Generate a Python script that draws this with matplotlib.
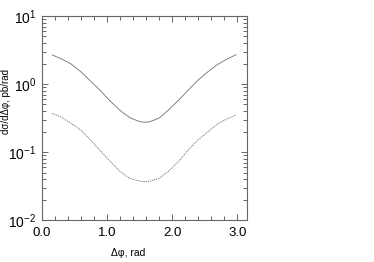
import numpy as np
import matplotlib
matplotlib.use('Agg')
import matplotlib.pyplot as plt
from matplotlib.ticker import MultipleLocator, LogLocator, NullFormatter

plt.rcParams['font.family'] = ['Liberation Sans', 'DejaVu Sans']
plt.rcParams['mathtext.fontset'] = 'custom'
plt.rcParams['mathtext.rm'] = 'Liberation Sans'

# delta phi values (rad)
dphi = [0.16, 0.30, 0.45, 0.60, 0.75, 0.90, 1.05, 1.20, 1.35, 1.50, 1.57,
        1.65, 1.80, 1.95, 2.10, 2.25, 2.40, 2.55, 2.70, 2.85, 2.98]
# upper curve, pb/rad
xsec_upper = [2.68, 2.35, 1.97, 1.52, 1.10, 0.80, 0.56, 0.41, 0.32, 0.280, 0.274,
              0.278, 0.315, 0.42, 0.58, 0.82, 1.15, 1.52, 1.95, 2.35, 2.70]
# lower curve, pb/rad
xsec_lower = [0.372, 0.325, 0.265, 0.21, 0.150, 0.104, 0.073, 0.052, 0.041, 0.0375, 0.0366,
              0.0372, 0.041, 0.053, 0.073, 0.108, 0.152, 0.20, 0.26, 0.31, 0.35]

xticks = [0.0, 1.0, 2.0, 3.0]
xticklabels = ['0.0', '1.0', '2.0', '3.0']
yticks = [1e-2, 1e-1, 1e0, 1e1]
yticklabels = [r'$\mathregular{10^{-2}}$', r'$\mathregular{10^{-1}}$',
               r'$\mathregular{10^{0}}$', r'$\mathregular{10^{1}}$']

fig = plt.figure(figsize=(3.74, 2.62), dpi=100)
ax = fig.add_axes([0.1115, 0.160, 0.548, 0.779])

ax.plot(dphi, xsec_upper, color='#707070', lw=0.6)
ax.plot(dphi, xsec_lower, color='#707070', lw=0.6, ls=(0, (1.5, 1.0)))

ax.set_yscale('log')
ax.set_xlim(0, np.pi)
ax.set_ylim(1e-2, 1e1)

ax.set_xticks(xticks)
ax.set_xticklabels(xticklabels)
ax.xaxis.set_minor_locator(MultipleLocator(0.2))
ax.set_yticks(yticks)
ax.set_yticklabels(yticklabels)
ax.yaxis.set_minor_locator(LogLocator(base=10, subs=np.arange(2, 10)))
ax.yaxis.set_minor_formatter(NullFormatter())

for s in ax.spines.values():
    s.set_color('#666666')
    s.set_linewidth(0.8)

ax.tick_params(which='both', direction='in', top=True, right=True,
               color='#666666', width=0.7)
ax.tick_params(which='major', length=4, labelsize=9.5, pad=5)
ax.tick_params(which='minor', length=3)
ax.tick_params(axis='y', which='major', labelsize=10, pad=4)

ax.set_xlabel('Δφ, rad', fontsize=7.5)
ax.xaxis.set_label_coords(0.42, -0.135)
ax.set_ylabel('dσ/dΔφ, pb/rad', fontsize=7)
ax.yaxis.set_label_coords(-0.148, 0.58)

fig.savefig('out.png', dpi=100)
